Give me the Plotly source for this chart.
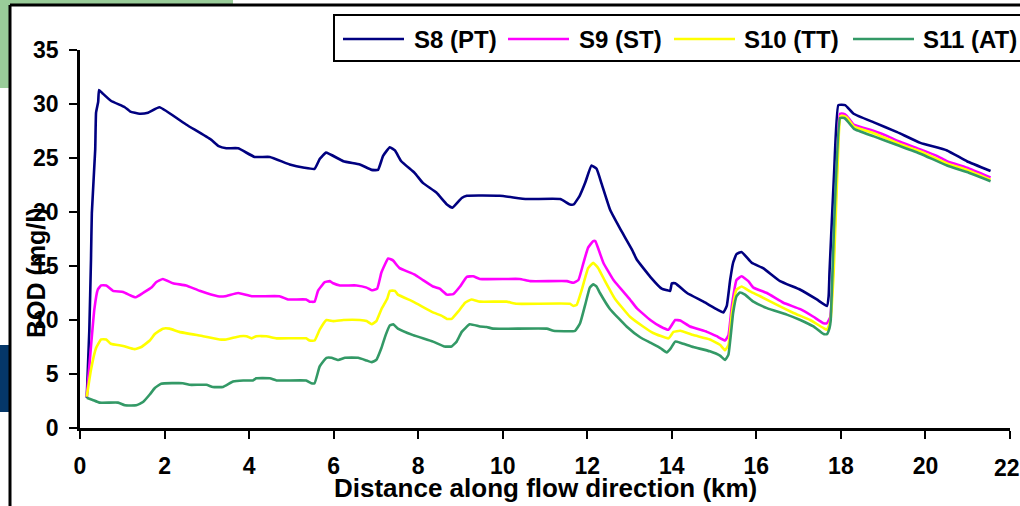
import plotly.graph_objects as go

# BOD profiles along the river for four treatment levels
s8_x = [0.16, 0.22, 0.26, 0.28, 0.36, 0.38, 0.43, 0.45, 0.53, 0.73, 1.06, 1.19, 1.41, 1.61, 1.88, 2.51, 3.10, 3.28, 3.46, 3.74, 4.13, 4.49, 4.96, 5.31, 5.55, 5.67, 5.82, 6.23, 6.62, 6.90, 7.05, 7.17, 7.33, 7.45, 7.60, 7.92, 8.11, 8.43, 8.68, 8.81, 9.03, 9.15, 9.93, 10.57, 11.36, 11.59, 11.68, 11.82, 11.95, 12.10, 12.22, 12.34, 12.54, 12.77, 13.06, 13.17, 13.49, 13.76, 13.96, 14.00, 14.08, 14.36, 14.75, 15.06, 15.22, 15.30, 15.38, 15.45, 15.53, 15.65, 15.89, 16.16, 16.56, 17.04, 17.43, 17.67, 17.71, 17.73, 17.84, 17.94, 18.10, 18.30, 18.78, 19.33, 19.88, 20.51, 20.98, 21.54]
s8_y = [2.8, 9.0, 15.6, 19.9, 25.8, 29.2, 30.2, 31.3, 31.0, 30.3, 29.7, 29.3, 29.1, 29.2, 29.7, 28.1, 26.7, 26.1, 25.9, 25.9, 25.1, 25.1, 24.4, 24.1, 24.0, 24.9, 25.5, 24.7, 24.4, 23.9, 23.9, 25.2, 26.0, 25.7, 24.7, 23.6, 22.7, 21.8, 20.7, 20.4, 21.3, 21.5, 21.5, 21.2, 21.2, 20.7, 20.7, 21.5, 22.7, 24.3, 24.0, 22.6, 20.2, 18.5, 16.5, 15.6, 14.0, 12.9, 12.7, 13.4, 13.4, 12.5, 11.7, 11.0, 10.7, 11.3, 13.7, 15.3, 16.1, 16.3, 15.3, 14.8, 13.6, 12.8, 11.9, 11.3, 12.2, 14.4, 23.7, 29.9, 29.9, 29.1, 28.3, 27.4, 26.4, 25.7, 24.7, 23.8]

s9_x = [0.16, 0.34, 0.42, 0.50, 0.62, 0.78, 1.02, 1.18, 1.32, 1.49, 1.69, 1.80, 1.96, 2.20, 2.51, 2.83, 3.26, 3.43, 3.74, 4.06, 4.72, 4.92, 5.35, 5.43, 5.55, 5.63, 5.79, 5.91, 5.99, 6.15, 6.54, 6.78, 6.90, 7.03, 7.13, 7.29, 7.41, 7.49, 7.56, 7.92, 8.11, 8.35, 8.51, 8.68, 8.83, 8.99, 9.15, 9.30, 9.46, 10.40, 10.65, 11.52, 11.67, 11.79, 11.91, 12.02, 12.14, 12.19, 12.38, 12.62, 13.01, 13.17, 13.49, 13.73, 13.92, 14.08, 14.20, 14.43, 14.83, 15.06, 15.26, 15.34, 15.42, 15.53, 15.65, 15.81, 15.93, 16.25, 16.64, 17.04, 17.35, 17.59, 17.67, 17.75, 17.82, 17.94, 17.98, 18.06, 18.14, 18.30, 18.78, 19.09, 19.33, 19.88, 20.27, 20.51, 20.98, 21.54]
s9_y = [2.9, 11.0, 12.8, 13.2, 13.2, 12.7, 12.6, 12.3, 12.1, 12.5, 13.0, 13.5, 13.8, 13.4, 13.2, 12.7, 12.2, 12.2, 12.5, 12.2, 12.2, 11.9, 11.9, 11.7, 11.7, 12.7, 13.5, 13.6, 13.4, 13.2, 13.2, 13.0, 12.75, 12.9, 14.4, 15.7, 15.5, 15.1, 14.8, 14.2, 13.7, 13.1, 12.9, 12.35, 12.4, 13.1, 14.0, 14.05, 13.8, 13.8, 13.6, 13.6, 13.45, 13.7, 15.3, 16.7, 17.3, 17.3, 15.3, 13.7, 11.9, 11.1, 10.0, 9.4, 9.1, 10.0, 9.95, 9.4, 8.9, 8.5, 8.1, 8.6, 11.3, 13.7, 14.05, 13.6, 13.0, 12.5, 11.6, 11.0, 10.3, 9.7, 9.7, 10.3, 15.0, 27.4, 29.1, 29.1, 28.9, 28.1, 27.5, 27.05, 26.6, 25.8, 25.2, 24.7, 24.1, 23.2]

s10_x = [0.16, 0.26, 0.38, 0.50, 0.62, 0.73, 1.02, 1.29, 1.45, 1.65, 1.77, 1.96, 2.12, 2.35, 2.91, 3.30, 3.46, 3.78, 3.94, 4.06, 4.17, 4.41, 4.65, 5.35, 5.43, 5.55, 5.67, 5.83, 5.99, 6.23, 6.62, 6.78, 6.90, 7.01, 7.13, 7.27, 7.33, 7.45, 7.52, 7.88, 8.35, 8.55, 8.68, 8.79, 8.95, 9.11, 9.26, 9.46, 10.09, 10.33, 11.59, 11.67, 11.75, 11.87, 12.02, 12.14, 12.26, 12.42, 12.65, 13.01, 13.32, 13.56, 13.92, 14.04, 14.20, 14.51, 14.90, 15.14, 15.26, 15.34, 15.42, 15.53, 15.65, 15.85, 16.09, 16.49, 16.88, 17.27, 17.59, 17.67, 17.75, 17.83, 17.95, 17.99, 18.07, 18.15, 18.31, 18.78, 19.33, 19.88, 20.51, 20.98, 21.54]
s10_y = [2.9, 5.4, 7.4, 8.2, 8.2, 7.8, 7.6, 7.3, 7.5, 8.1, 8.7, 9.2, 9.2, 8.9, 8.5, 8.2, 8.2, 8.5, 8.5, 8.3, 8.5, 8.5, 8.3, 8.3, 8.1, 8.1, 9.1, 10.0, 9.9, 10.0, 10.0, 9.9, 9.6, 9.9, 11.0, 12.0, 12.7, 12.7, 12.35, 11.7, 10.7, 10.4, 10.1, 10.1, 10.8, 11.6, 11.9, 11.7, 11.7, 11.5, 11.5, 11.3, 11.4, 12.8, 14.8, 15.3, 14.8, 13.6, 12.0, 10.3, 9.4, 8.8, 8.3, 8.9, 9.0, 8.6, 8.2, 7.7, 7.2, 7.7, 10.6, 12.8, 13.1, 12.65, 12.2, 11.4, 10.65, 10.0, 9.25, 9.1, 9.9, 14.5, 27.2, 28.9, 28.9, 28.7, 27.9, 27.3, 26.4, 25.6, 24.5, 23.9, 23.0]

s11_x = [0.16, 0.30, 0.46, 0.90, 1.06, 1.33, 1.49, 1.65, 1.77, 1.92, 2.43, 2.59, 2.99, 3.14, 3.38, 3.62, 3.86, 4.09, 4.17, 4.49, 4.65, 5.35, 5.47, 5.55, 5.67, 5.83, 5.95, 6.11, 6.27, 6.58, 6.78, 6.90, 7.01, 7.13, 7.23, 7.33, 7.41, 7.52, 7.88, 8.35, 8.62, 8.79, 8.91, 9.03, 9.22, 9.46, 9.62, 9.77, 11.04, 11.20, 11.71, 11.83, 11.95, 12.06, 12.14, 12.22, 12.30, 12.54, 12.93, 13.25, 13.49, 13.73, 13.88, 13.96, 14.08, 14.20, 14.51, 14.90, 15.14, 15.26, 15.34, 15.45, 15.53, 15.61, 15.73, 15.93, 16.25, 16.72, 17.04, 17.35, 17.59, 17.67, 17.73, 17.76, 17.84, 17.98, 18.08, 18.16, 18.31, 18.78, 19.33, 19.88, 20.51, 20.98, 21.54]
s11_y = [2.8, 2.6, 2.35, 2.35, 2.1, 2.1, 2.4, 3.1, 3.7, 4.1, 4.15, 4.0, 4.0, 3.8, 3.8, 4.3, 4.4, 4.4, 4.6, 4.6, 4.4, 4.4, 4.15, 4.15, 5.7, 6.5, 6.5, 6.3, 6.5, 6.5, 6.25, 6.1, 6.3, 7.4, 8.6, 9.5, 9.6, 9.2, 8.6, 8.0, 7.55, 7.55, 8.0, 8.9, 9.6, 9.4, 9.35, 9.2, 9.2, 9.0, 9.0, 9.7, 11.4, 13.0, 13.3, 13.1, 12.5, 11.0, 9.4, 8.4, 7.9, 7.4, 7.0, 7.3, 8.0, 7.9, 7.5, 7.1, 6.7, 6.3, 6.8, 10.65, 12.2, 12.55, 12.35, 11.7, 11.1, 10.5, 10.0, 9.4, 8.7, 8.7, 9.25, 10.0, 19.0, 28.7, 28.7, 28.4, 27.7, 27.0, 26.2, 25.4, 24.3, 23.7, 22.85]

series_names = ["S8 (PT)", "S9 (ST)", "S10 (TT)", "S11 (AT)"]
series_colors = ["#000080", "#FF00FF", "#FFFF00", "#339966"]
x_ticks = [0, 2, 4, 6, 8, 10, 12, 14, 16, 18, 20, 22]
x_tick_labels = ["0", "2", "4", "6", "8", "10", "12", "14", "16", "18", "20", ""]
last_x_label = "22"
y_ticks = [0, 5, 10, 15, 20, 25, 30, 35]

W, H = 1020, 506
ML, MR, MT, MB = 80, 10, 50, 78
PW, PH = W - ML - MR, H - MT - MB


def fx(px):
    return (px - ML) / PW


def fy(py):
    return (H - MB - py) / PH


FONT = "Liberation Sans, Arial, sans-serif"
TICK_FONT = dict(family=FONT, size=23, color="black", weight="bold")

fig = go.Figure()
for xs, ys, name, color in zip([s8_x, s9_x, s10_x, s11_x], [s8_y, s9_y, s10_y, s11_y],
                               series_names, series_colors):
    fig.add_trace(go.Scatter(x=xs, y=ys, mode="lines", name=name,
                             line=dict(color=color, width=2.6, shape="spline", smoothing=0.35),
                             showlegend=False))

shapes = [
    # decorative slide background pieces
    dict(type="rect", xref="paper", yref="paper", x0=fx(0), x1=fx(233), y0=fy(88), y1=fy(0),
         fillcolor="#99CC99", line=dict(width=0), layer="below"),
    dict(type="rect", xref="paper", yref="paper", x0=fx(0), x1=fx(9), y0=fy(412), y1=fy(345),
         fillcolor="#053769", line=dict(width=0), layer="below"),
    dict(type="rect", xref="paper", yref="paper", x0=fx(10), x1=fx(1020), y0=fy(506), y1=fy(5),
         fillcolor="white", line=dict(width=0), layer="below"),
    dict(type="line", xref="paper", yref="paper", x0=fx(10), x1=fx(1020), y0=fy(5), y1=fy(5),
         line=dict(color="black", width=3), layer="below"),
    dict(type="line", xref="paper", yref="paper", x0=fx(10), x1=fx(10), y0=fy(5), y1=fy(506),
         line=dict(color="black", width=3), layer="below"),
    # legend frame (open on the right, running off the page edge)
    dict(type="path", xref="paper", yref="paper",
         path=f"M {fx(1020)},{fy(15)} L {fx(334)},{fy(15)} L {fx(334)},{fy(61)} L {fx(1020)},{fy(61)}",
         line=dict(color="black", width=2)),
]

annotations = []
legend_line_x = [(343, 404), (508, 569), (674, 735), (853, 914)]
legend_text_x = [412, 577, 742, 921]
LEG_Y = 39
for (a, b), tx, name, color in zip(legend_line_x, legend_text_x, series_names, series_colors):
    shapes.append(dict(type="line", xref="paper", yref="paper", x0=fx(a), x1=fx(b),
                       y0=fy(LEG_Y), y1=fy(LEG_Y), line=dict(color=color, width=2.5)))
    annotations.append(dict(text=name, xref="paper", yref="paper", x=fx(tx), y=fy(LEG_Y),
                            xanchor="left", yanchor="middle", showarrow=False,
                            font=dict(family=FONT, size=24, color="black", weight="bold")))

# last x tick label sits against the right page edge
annotations.append(dict(text=last_x_label, xref="x", yref="paper", x=x_ticks[-1], y=fy(453),
                        xanchor="center", yanchor="top", xshift=-3, showarrow=False,
                        font=TICK_FONT))
annotations.append(dict(text="BOD (mg/l)", textangle=-90, xref="paper", yref="paper",
                        x=fx(36), y=fy(273), xanchor="center", yanchor="middle", showarrow=False,
                        font=dict(family=FONT, size=25, color="black", weight="bold")))
annotations.append(dict(text="Distance along flow direction (km)", xref="paper", yref="paper",
                        x=fx(545), y=fy(488), xanchor="center", yanchor="middle", showarrow=False,
                        font=dict(family=FONT, size=26, color="black", weight="bold")))

axis_common = dict(showline=True, linecolor="black", linewidth=2.5, ticks="outside",
                   ticklen=8, tickwidth=2, tickcolor="black", showgrid=False, zeroline=False,
                   tickfont=TICK_FONT)

fig.update_layout(
    width=W, height=H,
    margin=dict(l=ML, r=MR, t=MT, b=MB, pad=0),
    paper_bgcolor="white", plot_bgcolor="white",
    xaxis=dict(range=[0, 22], tickvals=x_ticks, ticktext=x_tick_labels, ticklabelstandoff=8,
               **axis_common),
    yaxis=dict(range=[0, 35], tickvals=y_ticks, ticklabelstandoff=6, **axis_common),
    shapes=shapes, annotations=annotations, showlegend=False,
)

fig.write_html("out.html")
